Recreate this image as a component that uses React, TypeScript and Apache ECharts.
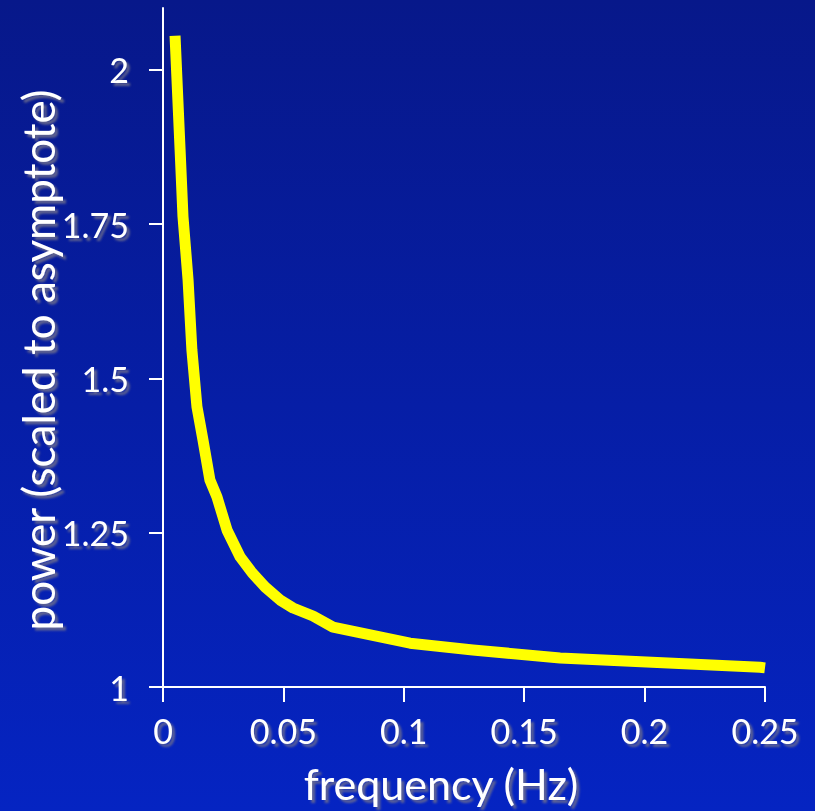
import React, { useEffect, useRef } from "react";
import * as echarts from "echarts";

// frequency (Hz)
const frequency = [
  0.005, 0.0071, 0.0083, 0.0104, 0.012, 0.0141, 0.0166, 0.0195, 0.0224, 0.0266,
  0.032, 0.037, 0.0424, 0.0486, 0.054, 0.0623, 0.0706, 0.1026, 0.1287, 0.1649,
  0.2479, 0.25,
];
// power (scaled to asymptote)
const power = [
  2.055, 1.87, 1.762, 1.66, 1.546, 1.454, 1.4, 1.335, 1.308, 1.254,
  1.211, 1.185, 1.162, 1.141, 1.128, 1.115, 1.097, 1.071, 1.06, 1.047,
  1.032, 1.031,
];
const xTicks = [0, 0.05, 0.1, 0.15, 0.2, 0.25];
const yTicks = [1, 1.25, 1.5, 1.75, 2];
const xTitle = "frequency (Hz)";
const yTitle = "power (scaled to asymptote)";

const FONT = "Lato, 'Open Sans', sans-serif";
const shadow = {
  textShadowColor: "rgba(110,110,140,0.85)",
  textShadowBlur: 2,
  textShadowOffsetX: 3,
  textShadowOffsetY: 3,
};

export default function App() {
  const ref = useRef<HTMLDivElement>(null);
  useEffect(() => {
    if (!ref.current) return;
    const chart = echarts.init(ref.current, null, { renderer: "svg" });
    const fmt = (v: number) => String(+Number(v).toFixed(2));
    chart.setOption({
      animation: false,
      backgroundColor: {
        type: "linear",
        x: 0,
        y: 0,
        x2: 0,
        y2: 1,
        colorStops: [
          { offset: 0, color: "#07188a" },
          { offset: 1, color: "#0524c2" },
        ],
      },
      grid: {
        left: 163,
        right: 50,
        top: 8,
        bottom: 124,
        outerBoundsMode: "none",
        containLabel: false,
      },
      xAxis: {
        type: "value",
        min: 0,
        max: 0.25,
        interval: 0.05,
        splitLine: { show: false },
        axisLine: { show: true, lineStyle: { color: "#ffffff", width: 2 } },
        axisTick: {
          show: true,
          length: 15,
          lineStyle: { color: "#ffffff", width: 2 },
          customValues: xTicks,
        },
        axisLabel: {
          customValues: xTicks,
          formatter: fmt,
          color: "#ffffff",
          fontFamily: FONT,
          fontSize: 34,
          margin: 26,
          ...shadow,
        },
      },
      yAxis: {
        type: "value",
        min: 1,
        max: 2.1,
        splitLine: { show: false },
        axisLine: { show: true, lineStyle: { color: "#ffffff", width: 2 } },
        axisTick: {
          show: true,
          length: 14,
          lineStyle: { color: "#ffffff", width: 2 },
          customValues: yTicks,
        },
        axisLabel: {
          customValues: yTicks,
          formatter: fmt,
          color: "#ffffff",
          fontFamily: FONT,
          fontSize: 34,
          margin: 34,
          padding: [0, 0, 8, 0],
          ...shadow,
        },
      },
      series: [
        {
          type: "line",
          data: frequency.map((f, i) => [f, power[i]]),
          showSymbol: false,
          symbol: "none",
          lineStyle: { color: "#ffff00", width: 11, cap: "butt", join: "round" },
        },
      ],
      graphic: [
        {
          type: "text",
          x: 441,
          y: 783,
          style: {
            text: xTitle,
            fill: "#ffffff",
            font: `43px ${FONT}`,
            align: "center",
            verticalAlign: "middle",
            ...shadow,
          },
        },
        {
          type: "text",
          x: 38,
          y: 360,
          rotation: Math.PI / 2,
          style: {
            text: yTitle,
            fill: "#ffffff",
            font: `44px ${FONT}`,
            align: "center",
            verticalAlign: "middle",
            ...shadow,
            textShadowOffsetX: -3,
            textShadowOffsetY: 3,
          },
        },
      ],
    });
    return () => chart.dispose();
  }, []);
  return (
    <div
      ref={ref}
      style={{ position: "fixed", left: 0, top: 0, width: 815, height: 811 }}
    />
  );
}
